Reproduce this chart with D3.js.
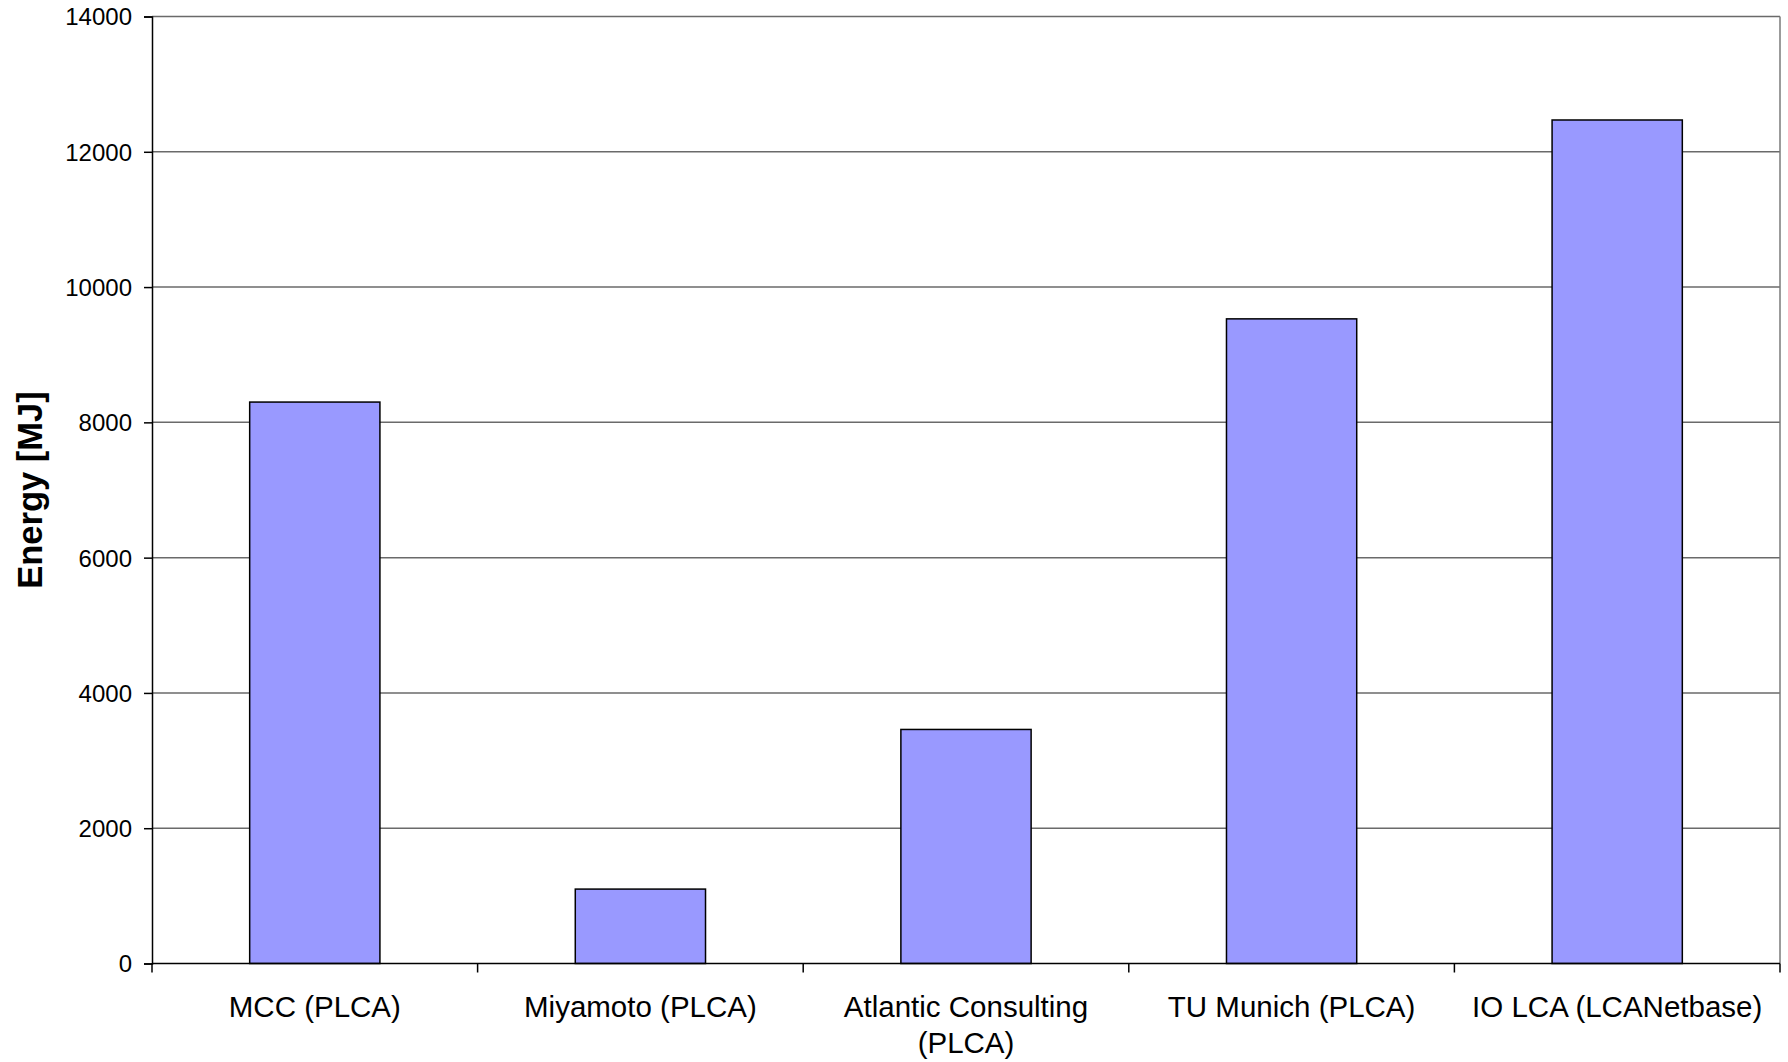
<!DOCTYPE html>
<html>
<head>
<meta charset="utf-8">
<script src="https://cdn.jsdelivr.net/npm/d3@7"></script>
<style>
  body { margin: 0; background: #fff; }
  text { font-family: "Liberation Sans", Arial, sans-serif; fill: #000; }
</style>
</head>
<body>
<div id="chart"></div>
<script>
// Daten
const categories = ["MCC (PLCA)", "Miyamoto (PLCA)", "Atlantic Consulting (PLCA)", "TU Munich (PLCA)", "IO LCA (LCANetbase)"];
const labelLines = [["MCC (PLCA)"], ["Miyamoto (PLCA)"], ["Atlantic Consulting", "(PLCA)"], ["TU Munich (PLCA)"], ["IO LCA (LCANetbase)"]];
const energy = [8300, 1100, 3460, 9530, 12470];
const yTicks = [0, 2000, 4000, 6000, 8000, 10000, 12000, 14000];

const width = 1788, height = 1062;
const margin = { top: 16.5, right: 8, bottom: 98.5, left: 152 };
const innerW = width - margin.left - margin.right;
const innerH = height - margin.top - margin.bottom;

const svg = d3.select("#chart").append("svg")
    .attr("width", width)
    .attr("height", height);

const g = svg.append("g").attr("transform", `translate(${margin.left},${margin.top})`);

const x = d3.scaleBand().domain(categories).range([0, innerW]).padding(0);
const y = d3.scaleLinear().domain([0, 14000]).range([innerH, 0]);

// Gitterlinien
g.selectAll(".grid")
    .data(yTicks.filter(t => t > 0))
    .enter().append("line")
    .attr("x1", 0).attr("x2", innerW)
    .attr("y1", d => y(d)).attr("y2", d => y(d))
    .attr("stroke", "#6a6a6a")
    .attr("stroke-width", 1.5);

// rechter Rand
g.append("line")
    .attr("x1", innerW).attr("x2", innerW)
    .attr("y1", 0).attr("y2", innerH)
    .attr("stroke", "#7a7a7a")
    .attr("stroke-width", 1.5);

// Balken
const barW = x.bandwidth() * 0.4;
g.selectAll(".bar")
    .data(energy)
    .enter().append("rect")
    .attr("x", (d, i) => x(categories[i]) + (x.bandwidth() - barW) / 2)
    .attr("y", d => y(d))
    .attr("width", barW)
    .attr("height", d => innerH - y(d))
    .attr("fill", "#9999ff")
    .attr("stroke", "#000")
    .attr("stroke-width", 1.5);

// Y-Achse
const yAxis = g.append("g")
    .call(d3.axisLeft(y).tickValues(yTicks).tickSize(8).tickPadding(12).tickFormat(d3.format("d")));
yAxis.select(".domain").attr("stroke", "#000").attr("stroke-width", 1.5);
yAxis.selectAll(".tick line").attr("stroke", "#000").attr("stroke-width", 1.5);
yAxis.selectAll(".tick text")
    .style("font-family", "'Liberation Sans', Arial, sans-serif")
    .style("font-size", "24px")
    .attr("dy", "0.35em");

// X-Achse mit Strichen an den Bandgrenzen
const xAxis = g.append("g").attr("transform", `translate(0,${innerH})`);
xAxis.append("line")
    .attr("x1", 0).attr("x2", innerW)
    .attr("stroke", "#000").attr("stroke-width", 1.5);
const bounds = categories.map(c => x(c)).concat([innerW]);
xAxis.selectAll(".xtick")
    .data(bounds)
    .enter().append("line")
    .attr("x1", d => d).attr("x2", d => d)
    .attr("y1", 0).attr("y2", 9)
    .attr("stroke", "#000").attr("stroke-width", 1.5);

const xl = xAxis.selectAll(".xlabel")
    .data(labelLines)
    .enter().append("text")
    .attr("text-anchor", "middle")
    .style("font-size", "29.5px")
    .attr("transform", (d, i) => `translate(${x(categories[i]) + x.bandwidth() / 2},53.5)`);
xl.selectAll("tspan")
    .data(d => d)
    .enter().append("tspan")
    .attr("x", 0)
    .attr("y", (d, i) => i * 36)
    .text(d => d);

// Achsentitel
svg.append("text")
    .attr("transform", `translate(42,490) rotate(-90)`)
    .attr("text-anchor", "middle")
    .style("font-size", "34.5px")
    .style("font-weight", "bold")
    .text("Energy [MJ]");
</script>
</body>
</html>
